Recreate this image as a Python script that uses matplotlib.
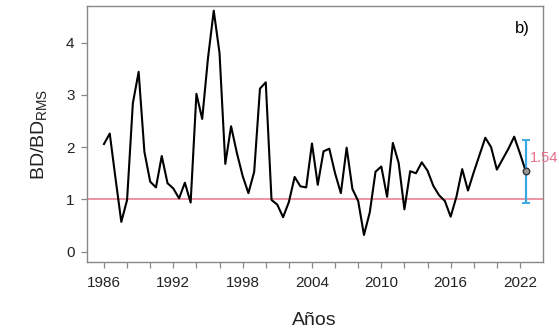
import numpy as np
import matplotlib
matplotlib.use("Agg")
import matplotlib.pyplot as plt

plt.rcParams['font.family'] = ['Liberation Sans', 'DejaVu Sans']
plt.rcParams['mathtext.default'] = 'regular'

# semi-annual index, 1986.0 .. 2022.5
years = np.arange(1986, 2023, 0.5)
bd_ratio = [
    2.06, 2.26, 1.40, 0.57, 0.99, 2.84, 3.44, 1.91, 1.34, 1.23,
    1.83, 1.31, 1.21, 1.02, 1.32, 0.94, 3.02, 2.54, 3.70, 4.61,
    3.80, 1.68, 2.40, 1.89, 1.45, 1.12, 1.53, 3.12, 3.24, 0.99,
    0.90, 0.66, 0.95, 1.43, 1.25, 1.23, 2.07, 1.28, 1.92, 1.97,
    1.50, 1.12, 1.99, 1.20, 0.97, 0.32, 0.75, 1.53, 1.63, 1.05,
    2.08, 1.70, 0.81, 1.54, 1.50, 1.71, 1.55, 1.26, 1.08, 0.97,
    0.67, 1.05, 1.58, 1.17, 1.52, 1.85, 2.18, 2.00, 1.57, 1.77,
    1.97, 2.20, 1.88, 1.54,
]
last_value = 1.54
err_low, err_high = 0.93, 2.14
ref_level = 1.0

tick_years = np.arange(1986, 2023, 2)
label_years = [1986, 1992, 1998, 2004, 2010, 2016, 2022]

fig = plt.figure(figsize=(5.59, 3.33), dpi=100)
ax = fig.add_axes([0.1556, 0.2132, 0.8149, 0.7688])

ax.axhline(ref_level, color='#e8788c', lw=1.1, zorder=1)
ax.plot(years, bd_ratio, color='black', lw=1.5, zorder=2)

# error bar on last point
ax.errorbar([years[-1]], [last_value],
            yerr=[[last_value - err_low], [err_high - last_value]],
            fmt='none', ecolor='#3aa8e4', elinewidth=1.6, capsize=3, capthick=1.4, zorder=3)
ax.scatter([years[-1]], [last_value], s=22, facecolor='#999999', edgecolor='#333333',
           linewidths=1, zorder=4)
ax.text(years[-1] + 0.35, 1.80, f"{last_value:.2f}", color='#e8708a', fontsize=10.5,
        ha='left', va='center', clip_on=False, zorder=5)

ax.text(0.955, 0.914, "b)", transform=ax.transAxes, fontsize=12, ha='center', va='center')

ax.set_xlim(1984.53, 2023.95)
ax.set_ylim(-0.197, 4.70)
ax.set_xticks(tick_years)
ax.set_xticklabels([str(y) if y in label_years else '' for y in tick_years])
ax.set_yticks([0, 1, 2, 3, 4])

for s in ax.spines.values():
    s.set_color('#888888')
    s.set_linewidth(1.0)
ax.tick_params(axis='both', direction='out', length=4, width=0.9, color='#888888',
               labelsize=11, labelcolor='#222222')
ax.tick_params(axis='x', pad=6)
ax.tick_params(axis='y', pad=5)

ax.set_xlabel("Años", fontsize=14, color='#222222', labelpad=16)
ax.set_ylabel("BD/BD$_{RMS}$", fontsize=14, color='#222222', labelpad=12)

fig.savefig("out.png", dpi=100)
